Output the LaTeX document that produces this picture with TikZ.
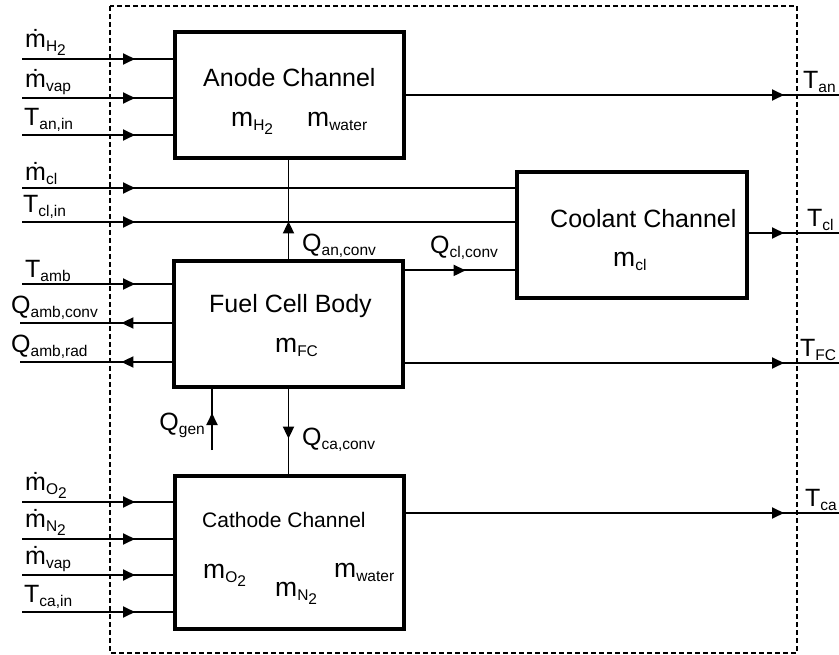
\documentclass[tikz,border=0pt]{standalone}
\usepackage{fontspec}
\setmainfont{Liberation Sans}
\usetikzlibrary{arrows.meta,decorations.markings}
\newcommand\sub[1]{\raisebox{-4pt}{\fontsize{15.5}{16}\selectfont #1}}
\newcommand\mdot{\.{m}}
\newcommand\bigtxt{\fontsize{25}{30}\selectfont}
\tikzset{tri/.tip={Triangle[length=12pt,width=11pt]}}

\begin{document}
\begin{tikzpicture}[x=1pt,y=-1pt,
  font=\fontsize{25}{30}\selectfont,
  blk/.style={draw, line width=3.2pt, inner sep=0pt},
  flow/.style={line width=1.8pt, postaction={decorate},
    decoration={markings, mark=at position #1 with {\arrow{tri}}}},
  lbl/.style={inner sep=0pt, anchor=south west},
  txt/.style={inner sep=0pt, anchor=base west, font=\bigtxt},
  mass/.style={inner sep=0pt, anchor=base west, font=\fontsize{26.5}{30}\selectfont}]
\useasboundingbox (0,0) rectangle (839,655);
\draw[line width=1.6pt, dash pattern=on 5pt off 3pt] (110,6) rectangle (797,653);

% blocks
\node[blk, minimum width=229pt, minimum height=126pt] (an) at (289.5,95) {};
\node[blk, minimum width=230pt, minimum height=126pt] (cl) at (632,235) {};
\node[blk, minimum width=229pt, minimum height=126pt] (fc) at (288.5,324) {};
\node[blk, minimum width=229pt, minimum height=153pt] (ca) at (289.5,552.5) {};

\node[txt] (anT) at (203,87) {Anode Channel};
\node[mass] (anH2) at (231,127) {m\sub{H\sub{2}}};
\node[mass] (anW) at (307,127) {m\sub{water}};
\node[txt] (clT) at (550,228) {Coolant Channel};
\node[mass] (clM) at (613,267) {m\sub{cl}};
\node[txt] (fcT) at (209,313) {Fuel Cell Body};
\node[mass] (fcM) at (275,353) {m\sub{FC}};
\node[txt, font=\fontsize{21}{26}\selectfont] (caT) at (202,527) {Cathode Channel};
\node[mass] (caO2) at (203,578) {m\sub{O\sub{2}}};
\node[mass] (caN2) at (275,596) {m\sub{N\sub{2}}};
\node[mass] (caW) at (334,577) {m\sub{water}};

% anode inputs
\coordinate (iH2) at (22,59);
\coordinate (iVapA) at (22,98);
\coordinate (iTan) at (22,135);
\draw[flow=113pt] (iH2) -- (iH2 -| an.west);
\draw[flow=113pt] (iVapA) -- (iVapA -| an.west);
\draw[flow=113pt] (iTan) -- (iTan -| an.west);
\node[lbl] (lH2) at ([shift={(3pt,3pt)}]iH2) {\mdot\sub{H\sub{2}}};
\node[lbl] (lVapA) at ([shift={(3pt,3pt)}]iVapA) {\mdot\sub{vap}};
\node[lbl] (lTan) at ([shift={(2pt,3pt)}]iTan) {T\sub{an,in}};

% coolant inputs
\coordinate (iCl) at (22,188);
\coordinate (iTcl) at (22,222);
\draw[flow=113pt] (iCl) -- (iCl -| cl.west);
\draw[flow=113pt] (iTcl) -- (iTcl -| cl.west);
\node[lbl] (lCl) at ([shift={(3pt,3pt)}]iCl) {\mdot\sub{cl}};
\node[lbl] (lTcl) at ([shift={(1pt,3pt)}]iTcl) {T\sub{cl,in}};

% body inputs and losses
\coordinate (iAmb) at (22,284);
\coordinate (oConv) at (20,323);
\coordinate (oRad) at (20,362);
\draw[flow=113pt] (iAmb) -- (iAmb -| fc.west);
\draw[flow=51pt] (oConv -| fc.west) -- (oConv);
\draw[flow=51pt] (oRad -| fc.west) -- (oRad);
\node[lbl] (lAmb) at ([shift={(3pt,2pt)}]iAmb) {T\sub{amb}};
\node[lbl] (lConv) at ([shift={(-9pt,3pt)}]oConv) {Q\sub{amb,conv}};
\node[lbl] (lRad) at ([shift={(-9pt,3pt)}]oRad) {Q\sub{amb,rad}};

% cathode inputs
\coordinate (iO2) at (22,502);
\coordinate (iN2) at (22,539);
\coordinate (iVapC) at (22,575);
\coordinate (iTca) at (22,612);
\draw[flow=113pt] (iO2) -- (iO2 -| ca.west);
\draw[flow=113pt] (iN2) -- (iN2 -| ca.west);
\draw[flow=113pt] (iVapC) -- (iVapC -| ca.west);
\draw[flow=113pt] (iTca) -- (iTca -| ca.west);
\node[lbl] (lO2) at ([shift={(3pt,3pt)}]iO2) {\mdot\sub{O\sub{2}}};
\node[lbl] (lN2) at ([shift={(3pt,3pt)}]iN2) {\mdot\sub{N\sub{2}}};
\node[lbl] (lVapC) at ([shift={(3pt,3pt)}]iVapC) {\mdot\sub{vap}};
\node[lbl] (lTca) at ([shift={(2pt,3pt)}]iTca) {T\sub{ca,in}};

% heat flows between blocks
\coordinate (qg) at (212,450);
\draw[flow=38pt] (fc.north) -- (fc.north |- an.south);
\draw[flow=61pt] ([yshift=-11pt]fc.north east) coordinate (qc) -- (qc -| cl.west);
\draw[flow=50pt] (fc.south) -- (fc.south |- ca.north);
\draw[flow=37pt] (qg) -- (qg |- fc.south);
\node[lbl] (lQan) at (302,258) {Q\sub{an,conv}};
\node[lbl] (lQcl) at (430,260) {Q\sub{cl,conv}};
\node[lbl] (lQca) at (302,452) {Q\sub{ca,conv}};
\node[lbl, anchor=south east] (lQg) at (205,438) {Q\sub{gen}};

% outputs
\coordinate (oAn) at (839,95);
\coordinate (oCl) at (839,233);
\coordinate (oFC) at (839,363);
\coordinate (oCa) at (839,513);
\draw[flow=-55pt] (an.east |- oAn) -- (oAn);
\draw[flow=-55pt] (cl.east |- oCl) -- (oCl);
\draw[flow=-55pt] (fc.east |- oFC) -- (oFC);
\draw[flow=-55pt] (ca.east |- oCa) -- (oCa);
\node[lbl] (lTan) at (803,93) {T\sub{an}};
\node[lbl] (lTcl) at (807,231) {T\sub{cl}};
\node[lbl] (lTfc) at (800,361) {T\sub{FC}};
\node[lbl] (lTca) at (805,511) {T\sub{ca}};
\end{tikzpicture}
\end{document}
